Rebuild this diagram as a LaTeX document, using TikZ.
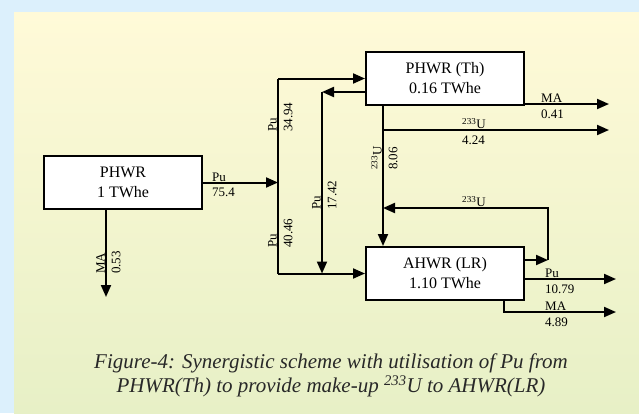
\documentclass[tikz,border=0pt]{standalone}
\usepackage{fontspec}
\setmainfont{Liberation Serif}
\usepackage{tikz}
\usetikzlibrary{arrows.meta,positioning,calc}
\definecolor{frameblue}{RGB}{220,240,252}
\definecolor{paleyellow}{RGB}{255,250,216}
\definecolor{palewhite}{RGB}{249,251,240}
\definecolor{palegreen}{RGB}{231,240,198}
\definecolor{captiongray}{RGB}{40,40,40}
\tikzset{
  reactor/.style={draw, line width=2pt, fill=white,
    minimum width=158pt, minimum height=53pt, align=center, font=\fontsize{16}{20}\selectfont},
  flow/.style={-{Triangle[length=12pt,width=10pt]}, line width=2pt},
  abovelbl/.style={anchor=south west, inner xsep=0pt, inner ysep=1pt, font=\fontsize{13}{15}\selectfont},
  belowlbl/.style={anchor=north west, inner xsep=0pt, inner ysep=5.5pt, font=\fontsize{13}{15}\selectfont},
  leftlbl/.style={abovelbl, rotate=90},
  rightlbl/.style={belowlbl, rotate=90},
  caption/.style={align=center, text=captiongray, font=\fontsize{21}{24}\selectfont\itshape}
}
\begin{document}
\begin{tikzpicture}[x=1pt,y=-1pt]
\useasboundingbox (0,0) rectangle (639,413);
\fill[frameblue] (0,0) rectangle (639,413);
\shade[top color=paleyellow, middle color=palewhite, bottom color=palegreen] (14,12) rectangle (639,413);

\node[reactor] (phwr) at (123,182.5) {PHWR\\1 TWhe};
\node[reactor] (th) at (445,78.5) {PHWR (Th)\\0.16 TWhe};
\node[reactor, below=140pt of th] (ahwr) {AHWR (LR)\\1.10 TWhe};

\coordinate (split) at (278,182.5);
\coordinate (ret) at (322,92);
\coordinate (ubr) at (383,130);
\coordinate (uout) at (609,130);
\coordinate (mathout) at (609,104);
\coordinate (fb) at (548,260);
\coordinate (fbtop) at (548,208);
\coordinate (puout) at (616,279);
\coordinate (maknee) at (504,312);
\coordinate (malrout) at (616,312);
\coordinate (maphwr) at (106,297);

\draw[flow] (phwr.east) -- (split);
\draw[line width=2pt] (split |- th.west) -- (split |- ahwr.west);
\draw[flow] (split |- th.west) -- (th.west);
\draw[flow] (split |- ahwr.west) -- (ahwr.west);
\draw[flow] (th.west |- ret) -- (ret);
\draw[flow] (ret) -- (ret |- ahwr.west);
\draw[flow] (ubr |- th.south) -- (ubr |- ahwr.north);
\draw[flow] (ubr) -- (uout);
\draw[flow] (th.east |- mathout) -- (mathout);
\draw[flow] (ahwr.east |- fb) -- (fb);
\draw[flow] (fb) -- (fbtop) -- (ubr |- fbtop);
\draw[flow] (ahwr.east |- puout) -- (puout);
\draw[flow] (maknee |- ahwr.south) -- (maknee) -- (malrout);
\draw[flow] (maphwr |- phwr.south) -- (maphwr);

\node[abovelbl] (pumain) at (212,182.5) {Pu};
\node[belowlbl] (pumainval) at (212,182.5) {75.4};
\node[leftlbl] (puth) at (278,132) {Pu};
\node[rightlbl] (puthval) at (278,132) {34.94};
\node[leftlbl] (pulr) at (278,248) {Pu};
\node[rightlbl] (pulrval) at (278,248) {40.46};
\node[leftlbl] (puret) at (322,210) {Pu};
\node[rightlbl] (puretval) at (322,210) {17.42};
\node[leftlbl] (udown) at (383,170) {\textsuperscript{233}U};
\node[rightlbl] (udownval) at (383,170) {8.06};
\node[leftlbl] (maone) at (106,274) {MA};
\node[rightlbl] (maoneval) at (106,274) {0.53};
\node[abovelbl] (math) at (541,104) {MA};
\node[belowlbl] (mathval) at (541,104) {0.41};
\node[abovelbl] (uth) at (462,130) {\textsuperscript{233}U};
\node[belowlbl] (uthval) at (462,130) {4.24};
\node[abovelbl] (ufb) at (462,208) {\textsuperscript{233}U};
\node[abovelbl] (pulrout) at (545,279) {Pu};
\node[belowlbl] (pulroutval) at (545,279) {10.79};
\node[abovelbl] (malr) at (545,312) {MA};
\node[belowlbl] (malrval) at (545,312) {4.89};

\node[caption] (cap) at (331,375.5) {Figure-4: Synergistic scheme with utilisation of Pu from\\PHWR(Th) to provide make-up \textsuperscript{233}U to AHWR(LR)};
\end{tikzpicture}
\end{document}
